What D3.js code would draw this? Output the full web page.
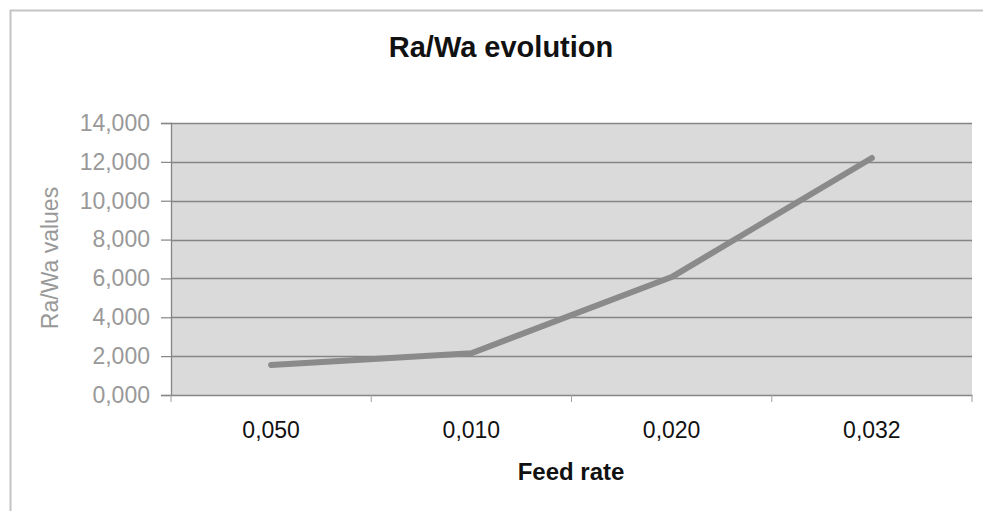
<!DOCTYPE html>
<html><head><meta charset="utf-8">
<script src="https://cdn.jsdelivr.net/npm/d3@7/dist/d3.min.js"></script>
<style>body{margin:0;background:#fff}svg{display:block}</style>
</head><body>
<svg id="c" width="983" height="511"></svg>
<script>
const categories = ["0,050", "0,010", "0,020", "0,032"];
const values = [1.55, 2.15, 6.07, 12.2];
const yTicks = [0, 2, 4, 6, 8, 10, 12, 14];
const title = "Ra/Wa evolution";
const xTitle = "Feed rate";
const yTitle = "Ra/Wa values";

const svg = d3.select("#c");
const L = 171, R = 972, T = 123, B = 395;
const font = "'Liberation Sans', Arial, sans-serif";

// outer frame
svg.append("path").attr("d", "M10.5,511 V10.5 H983").attr("fill", "none")
  .attr("stroke", "#c4c4c4").attr("stroke-width", 2);

const x = d3.scaleBand().domain(categories).range([L, R]).padding(0);
const y = d3.scaleLinear().domain([0, 14]).range([B, T]);

svg.append("rect").attr("x", L).attr("y", T).attr("width", R - L).attr("height", B - T)
  .attr("fill", "#dadada");

// gridlines
svg.append("g").selectAll("line").data(yTicks.slice(1)).join("line")
  .attr("x1", L).attr("x2", R).attr("y1", d => Math.round(y(d)) + 0.5).attr("y2", d => Math.round(y(d)) + 0.5)
  .attr("stroke", "#858585").attr("stroke-width", 1.3);

// y axis
const yAxis = d3.axisLeft(y).tickValues(yTicks).tickSize(10).tickPadding(11)
  .tickFormat(d => d3.format(",.3f")(d).replace(".", ","));
const gy = svg.append("g").attr("transform", `translate(${L},0)`).call(yAxis);
gy.select(".domain").attr("stroke", "#858585").attr("stroke-width", 1.3);
gy.selectAll(".tick line").attr("stroke", "#858585").attr("stroke-width", 1.2);
gy.selectAll(".tick text").attr("fill", "#999").attr("font-family", font).attr("font-size", 23);

// x axis
const xAxis = d3.axisBottom(x).tickSize(0).tickPadding(27);
const gx = svg.append("g").attr("transform", `translate(0,${B})`).call(xAxis);
gx.select(".domain").attr("stroke", "#858585").attr("stroke-width", 1.3);
gx.selectAll(".tick text").attr("fill", "#111").attr("font-family", font).attr("font-size", 23);
// category boundary ticks
const bounds = categories.map(c => x(c)).concat([x(categories[categories.length - 1]) + x.bandwidth()]);
svg.append("g").selectAll("line").data(bounds).join("line")
  .attr("x1", d => d).attr("x2", d => d).attr("y1", B).attr("y2", B + 7)
  .attr("stroke", "#a0a0a0").attr("stroke-width", 1);

// line
const line = d3.line().x((d, i) => x(categories[i]) + x.bandwidth() / 2).y(d => y(d))
  .curve(d3.curveLinear);
svg.append("path").datum(values).attr("d", line).attr("fill", "none")
  .attr("stroke", "#8a8a8a").attr("stroke-width", 6).attr("stroke-linecap", "round").attr("stroke-linejoin", "round");

// titles
svg.append("text").attr("x", 501).attr("y", 57).attr("text-anchor", "middle")
  .attr("font-family", font).attr("font-weight", "bold").attr("font-size", 29).attr("fill", "#111").text(title);
svg.append("text").attr("x", 571).attr("y", 480).attr("text-anchor", "middle")
  .attr("font-family", font).attr("font-weight", "bold").attr("font-size", 24).attr("fill", "#111").text(xTitle);
svg.append("text").attr("transform", `translate(58,258) rotate(-90)`).attr("text-anchor", "middle")
  .attr("font-family", font).attr("font-size", 23).attr("fill", "#999").text(yTitle);
</script>
</body></html>
